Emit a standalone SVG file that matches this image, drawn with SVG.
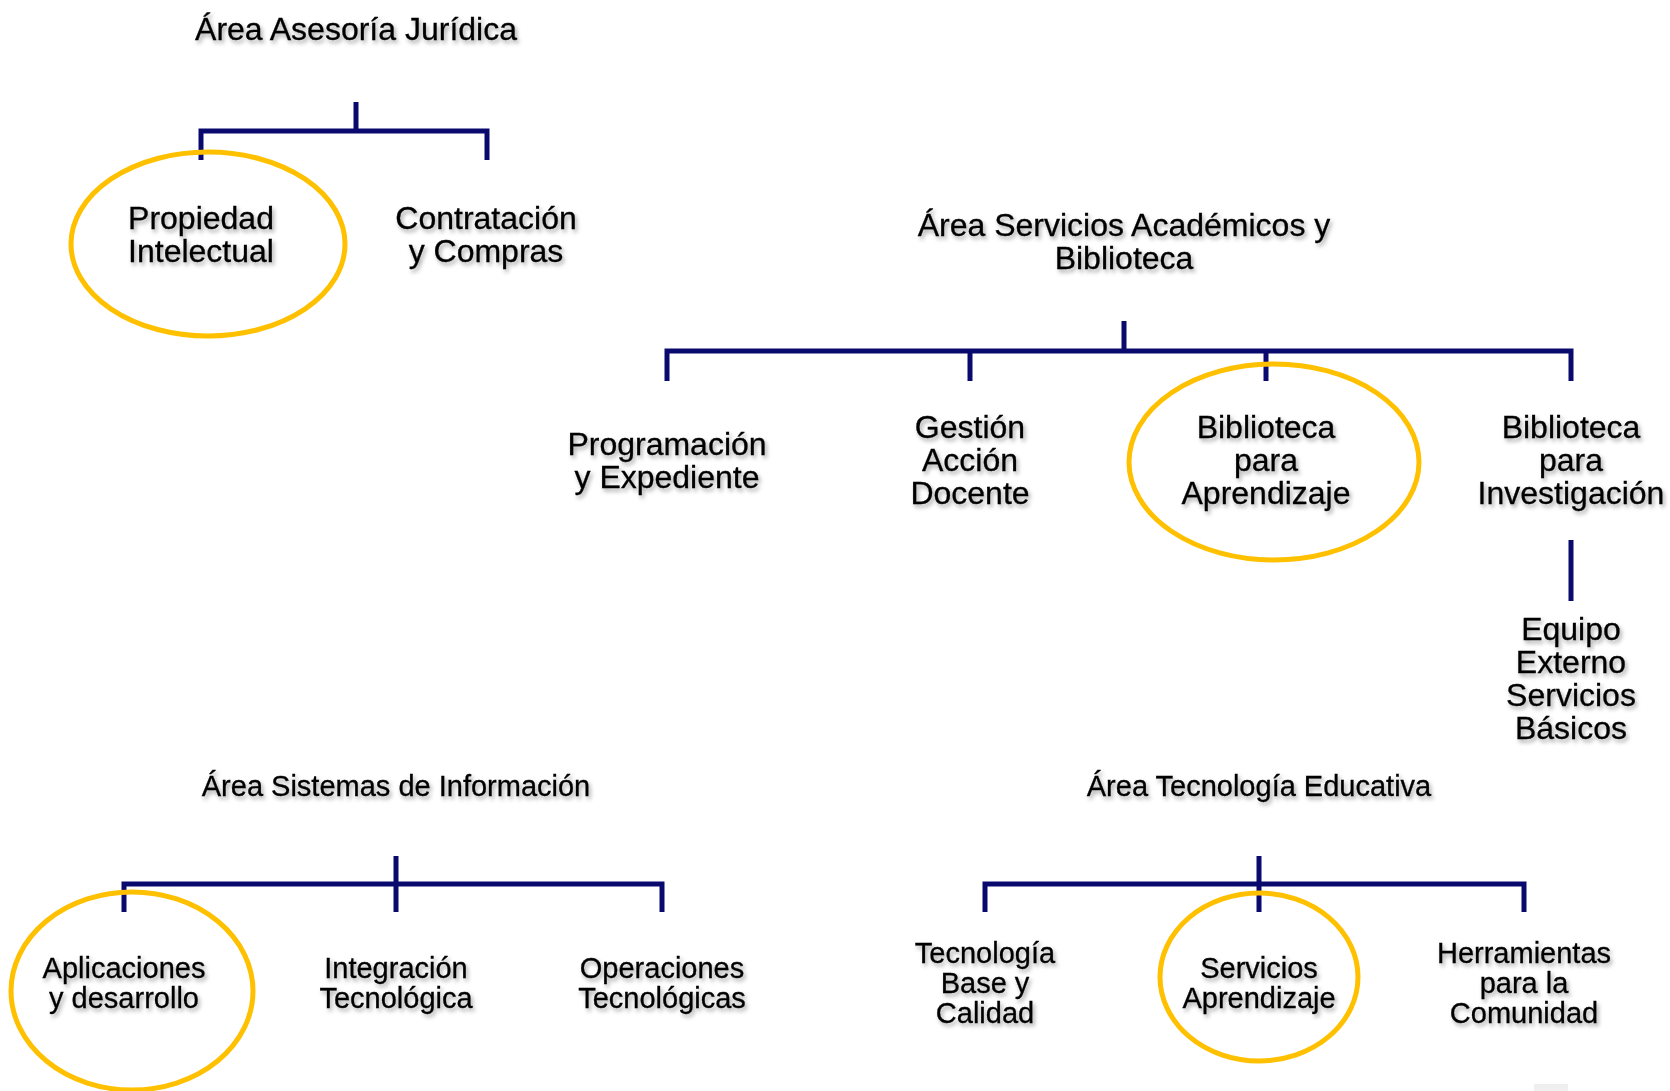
<svg xmlns="http://www.w3.org/2000/svg" width="1670" height="1091" viewBox="0 0 1670 1091">
<defs>
<filter id="sh" x="-10%" y="-30%" width="120%" height="160%">
<feDropShadow dx="2" dy="3" stdDeviation="2" flood-color="#000" flood-opacity="0.35"/>
</filter>
<style>
text{font-family:"Liberation Sans",Arial,sans-serif;fill:#000;text-anchor:middle;filter:url(#sh);stroke:#000;stroke-width:0.3}
.a{font-size:32px}
.b{font-size:29px}
.c{fill:none;stroke:#0a0a6e;stroke-width:5}
.o{fill:none;stroke:#FFC000;stroke-width:5}
</style>
</defs>
<rect width="1670" height="1091" fill="#fff"/>
<g id="connectors">
<path class="c" d="M356 102V131M201 160V131H487V160"/>
<path class="c" d="M1124 321V351M667 381V351H1571V381M970 351V381M1266 351V381"/>
<path class="c" d="M1571 540V601"/>
<path class="c" d="M396 856V912M124 912V884H662V912"/>
<path class="c" d="M1259 856V912M985 912V884H1524V912"/>
</g>
<g id="highlights">
<ellipse class="o" cx="208" cy="244" rx="137" ry="92"/>
<ellipse class="o" cx="1274" cy="462" rx="145" ry="98"/>
<ellipse class="o" cx="132" cy="991" rx="121" ry="99"/>
<ellipse class="o" cx="1259" cy="977" rx="99" ry="84"/>
</g>
<g id="n-asesoria"><text class="a" x="356" y="40">Área Asesoría Jurídica</text></g>
<g id="n-propiedad"><text class="a" x="201" y="229">Propiedad</text><text class="a" x="201" y="262">Intelectual</text></g>
<g id="n-contratacion"><text class="a" x="486" y="229">Contratación</text><text class="a" x="486" y="262">y Compras</text></g>
<g id="n-servicios"><text class="a" x="1124" y="236">Área Servicios Académicos y</text><text class="a" x="1124" y="269">Biblioteca</text></g>
<g id="n-programacion"><text class="a" x="667" y="455">Programación</text><text class="a" x="667" y="488">y Expediente</text></g>
<g id="n-gestion"><text class="a" x="970" y="438">Gestión</text><text class="a" x="970" y="471">Acción</text><text class="a" x="970" y="504">Docente</text></g>
<g id="n-bib-aprend"><text class="a" x="1266" y="438">Biblioteca</text><text class="a" x="1266" y="471">para</text><text class="a" x="1266" y="504">Aprendizaje</text></g>
<g id="n-bib-invest"><text class="a" x="1571" y="438">Biblioteca</text><text class="a" x="1571" y="471">para</text><text class="a" x="1571" y="504">Investigación</text></g>
<g id="n-equipo"><text class="a" x="1571" y="640">Equipo</text><text class="a" x="1571" y="673">Externo</text><text class="a" x="1571" y="706">Servicios</text><text class="a" x="1571" y="739">Básicos</text></g>
<g id="n-sistemas"><text class="b" x="396" y="796">Área Sistemas de Información</text></g>
<g id="n-aplicaciones"><text class="b" x="124" y="978">Aplicaciones</text><text class="b" x="124" y="1008">y desarrollo</text></g>
<g id="n-integracion"><text class="b" x="396" y="978">Integración</text><text class="b" x="396" y="1008">Tecnológica</text></g>
<g id="n-operaciones"><text class="b" x="662" y="978">Operaciones</text><text class="b" x="662" y="1008">Tecnológicas</text></g>
<g id="n-tecedu"><text class="b" x="1259" y="796">Área Tecnología Educativa</text></g>
<g id="n-tecbase"><text class="b" x="985" y="963">Tecnología</text><text class="b" x="985" y="993">Base y</text><text class="b" x="985" y="1023">Calidad</text></g>
<g id="n-servapr"><text class="b" x="1259" y="978">Servicios</text><text class="b" x="1259" y="1008">Aprendizaje</text></g>
<g id="n-herramientas"><text class="b" x="1524" y="963">Herramientas</text><text class="b" x="1524" y="993">para la</text><text class="b" x="1524" y="1023">Comunidad</text></g>
<rect x="1534" y="1084" width="34" height="7" fill="#efefef"/>
</svg>
